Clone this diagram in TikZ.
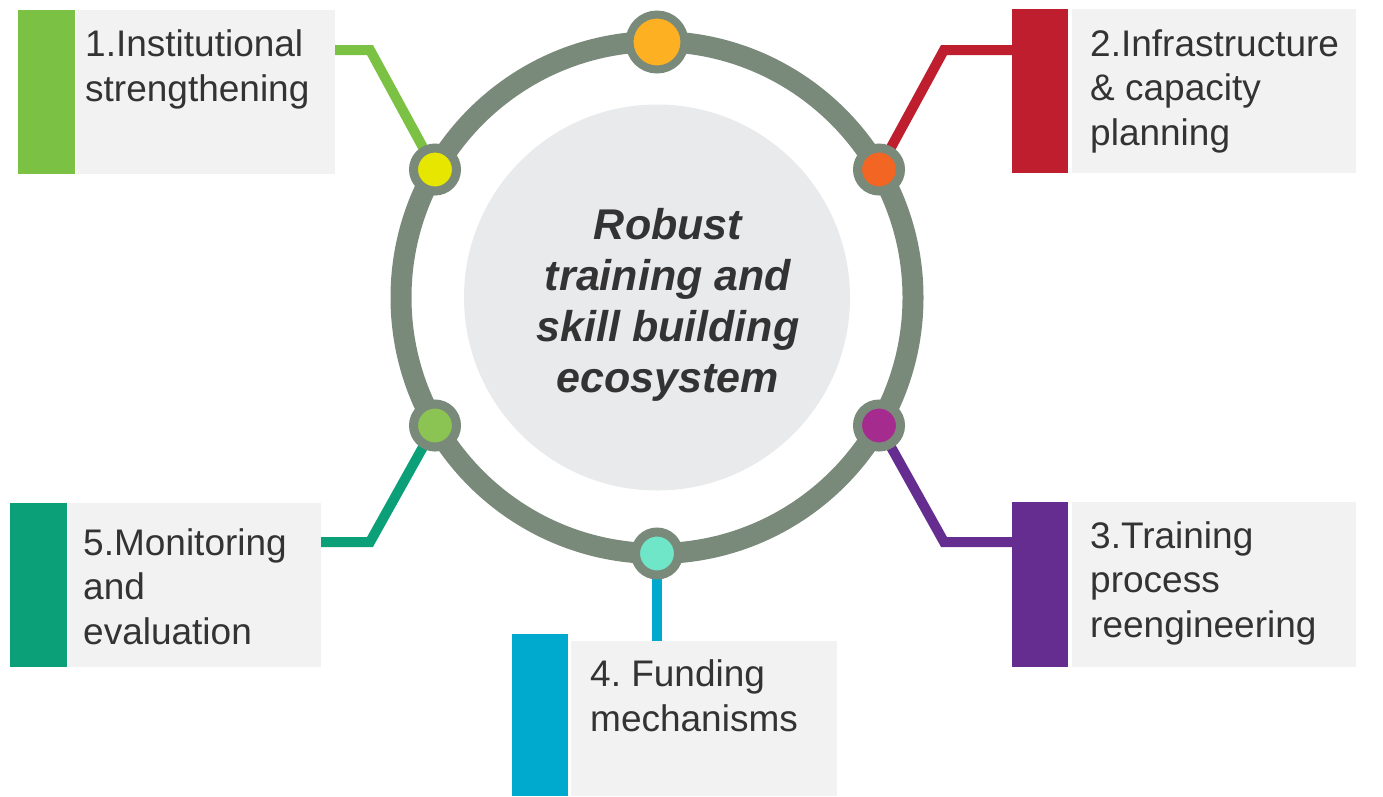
\documentclass[tikz,border=0pt]{standalone}
\usepackage{fontspec}
\setmainfont{Liberation Sans}
\usetikzlibrary{positioning, backgrounds}
\frenchspacing
\definecolor{ringgray}{RGB}{122, 138, 122}
\definecolor{hubgray}{RGB}{233, 234, 236}
\definecolor{panelgray}{RGB}{242, 242, 242}
\definecolor{txtgray}{RGB}{51, 51, 51}
\definecolor{instgreen}{RGB}{123, 193, 67}
\definecolor{infrared}{RGB}{190, 30, 45}
\definecolor{procpurple}{RGB}{102, 45, 145}
\definecolor{fundblue}{RGB}{0, 170, 207}
\definecolor{monteal}{RGB}{11, 160, 119}
\definecolor{dotorange}{RGB}{253, 176, 34}
\definecolor{dotyellow}{RGB}{230, 230, 0}
\definecolor{dotred}{RGB}{242, 101, 34}
\definecolor{dotgreen}{RGB}{139, 196, 83}
\definecolor{dotmagenta}{RGB}{166, 43, 142}
\definecolor{dotmint}{RGB}{112, 230, 201}

\begin{document}
\begin{tikzpicture}[x=1pt, y=-1pt,
  bar/.style={fill=#1, inner sep=0pt, anchor=north west, minimum width=56pt},
  panel/.style={fill=panelgray, inner sep=0pt},
  itemtext/.style={anchor=base west, align=left, inner sep=0pt, text=txtgray, font=\fontsize{37}{44.5}\selectfont},
  hubtext/.style={anchor=base, align=center, inner sep=0pt, text=txtgray, font=\fontsize{43}{51}\selectfont\bfseries\itshape},
  ring/.style={draw=ringgray, line width=21pt},
  dot/.style={circle, draw=ringgray, line width=9pt, minimum size=43pt, inner sep=0pt, fill=#1},
  bigdot/.style={circle, draw=ringgray, line width=8pt, minimum size=55pt, inner sep=0pt, fill=#1},
  link/.style={draw=#1, line width=10pt}]
  \useasboundingbox (0,0) rectangle (1383,796);

  % Hub
  \node[circle, fill=hubgray, minimum size=386pt, inner sep=0pt] (hub) at (657,297.5) {};
  \node[hubtext] (theme) at (668,392) {Robust\\training and\\skill building\\ecosystem};

  % Dots on the ring
  \node[bigdot=dotorange] (dtop) at (657,42) {};
  \node[dot=dotyellow] (d1) at (435,169.5) {};
  \node[dot=dotred] (d2) at (879,169.5) {};
  \node[dot=dotmagenta] (d3) at (879,425.5) {};
  \node[dot=dotmint] (d4) at (657,553.5) {};
  \node[dot=dotgreen] (d5) at (435,425.5) {};

  % 1. Institutional strengthening
  \node[bar=instgreen, minimum width=57pt, minimum height=164pt] (b1) at (18,10) {};
  \node[panel, minimum width=259pt, minimum height=164pt, right=0pt of b1] (p1) {};
  \node[itemtext] (t1) at (85,101) {1.Institutional\\strengthening};

  % 2. Infrastructure
  \node[bar=infrared, minimum height=164pt] (b2) at (1012,9) {};
  \node[panel, minimum width=284pt, minimum height=164pt, right=3pt of b2] (p2) {};
  \node[itemtext] (t2) at (1090,145) {2.Infrastructure\\\& capacity\\planning};

  % 3. Training process
  \node[bar=procpurple, minimum height=165pt] (b3) at (1012,502) {};
  \node[panel, minimum width=284pt, minimum height=165pt, right=3pt of b3] (p3) {};
  \node[itemtext] (t3) at (1090,637) {3.Training\\process\\reengineering};

  % 4. Funding
  \node[bar=fundblue, minimum height=162pt] (b4) at (512,634) {};
  \node[panel, minimum width=266pt, minimum height=155pt, above right=0pt and 2pt of b4.south east] (p4) {};
  \node[itemtext] (t4) at (590,731) {4. Funding\\mechanisms};

  % 5. Monitoring
  \node[bar=monteal, minimum width=57pt, minimum height=164pt] (b5) at (10,503) {};
  \node[panel, minimum width=253pt, minimum height=164pt, right=0pt of b5] (p5) {};
  \node[itemtext] (t5) at (83,644) {5.Monitoring\\and\\evaluation};

  % Ring and connectors behind the dots
  \begin{scope}[on background layer]
    \draw[ring] (hub.center) circle[radius=256];
    \coordinate (k1) at (370,50);
    \coordinate (k2) at (944,50);
    \coordinate (k3) at (944,542);
    \coordinate (k5) at (370,542);
    \draw[link=instgreen] (p1.east |- k1) -- (k1) -- (d1.center);
    \draw[link=infrared] (b2.west |- k2) -- (k2) -- (d2.center);
    \draw[link=procpurple] (b3.west |- k3) -- (k3) -- (d3.center);
    \draw[link=fundblue] (d4.center) -- (d4 |- p4.north);
    \draw[link=monteal] (p5.east |- k5) -- (k5) -- (d5.center);
  \end{scope}
\end{tikzpicture}
\end{document}
